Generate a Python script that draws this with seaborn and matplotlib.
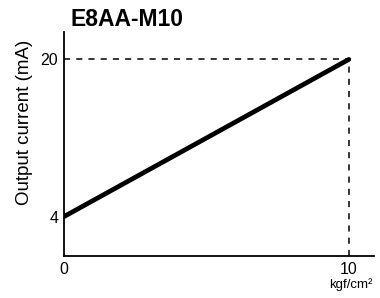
import matplotlib
matplotlib.use("Agg")
import matplotlib.pyplot as plt
import seaborn as sns
import pandas as pd

# --- data ---
pressure = [0, 10]          # kgf/cm2
current = [4, 20]           # mA
x_ticks = [0, 10]
y_ticks = [4, 20]

sns.set_theme(style="white")
plt.rcParams['font.family'] = ['Liberation Sans', 'DejaVu Sans']
plt.rcParams['text.color'] = 'black'
plt.rcParams['xtick.color'] = 'black'
plt.rcParams['ytick.color'] = 'black'

df = pd.DataFrame({'pressure': pressure, 'current': current})

fig = plt.figure(figsize=(3.8, 2.98), dpi=100)
ax = fig.add_axes([0.168, 0.141, 0.816, 0.752])

sns.lineplot(data=df, x='pressure', y='current', ax=ax, color='black', linewidth=3.4)

# dashed guides to the full-scale point
ax.plot([0, pressure[1]], [current[1], current[1]], color='black', linestyle=(0, (4, 4)), linewidth=1.1)
ax.plot([pressure[1], pressure[1]], [0, current[1]], color='black', linestyle=(0, (4, 4)), linewidth=1.1)

ax.set_xlim(0, 10.88)
ax.set_ylim(0, 22.8)
ax.set_xticks(x_ticks)
ax.set_yticks(y_ticks)
ax.tick_params(length=0, labelsize=11.5, pad=4)
for s in ['top', 'right']:
    ax.spines[s].set_visible(False)
for s in ['left', 'bottom']:
    ax.spines[s].set_color('black')
    ax.spines[s].set_linewidth(1.3)
ax.set_xlabel('')
ax.set_ylabel('')

fig.text(25 / 380, 1 - 122 / 298, 'Output current (mA)', fontsize=13.5, rotation=90,
         va='center', ha='center')
fig.text(71 / 380, 1 - 19 / 298, 'E8AA-M10', fontsize=16.5, fontweight='bold', va='center', ha='left')
fig.text(351 / 380, 1 - 285 / 298, 'kgf/cm²', fontsize=9.5, va='center', ha='center')

fig.savefig('out.png', dpi=100)
